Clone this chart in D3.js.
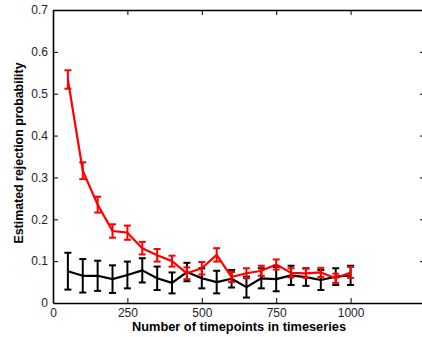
<!DOCTYPE html>
<meta charset="utf-8">
<title>Rejection probability</title>
<script src="https://d3js.org/d3.v7.min.js"></script>
<style>
    body { margin: 0; background: #fff; }
    text { font-family: "Liberation Sans", Arial, sans-serif; }
</style>
<body>
<div id="chart"></div>
<script>
    // data
    var timepoints = [50, 100, 150, 200, 250, 300, 350, 400, 450, 500,
                      550, 600, 650, 700, 750, 800, 850, 900, 950, 1000];
    var redMean = [0.534, 0.316, 0.235, 0.172, 0.168, 0.131, 0.114, 0.100, 0.071, 0.083,
                   0.115, 0.062, 0.071, 0.077, 0.092, 0.072, 0.071, 0.073, 0.059, 0.073];
    var redErr  = [0.022, 0.020, 0.019, 0.016, 0.017, 0.015, 0.015, 0.013, 0.014, 0.015,
                   0.016, 0.012, 0.012, 0.012, 0.012, 0.011, 0.011, 0.011, 0.011, 0.013];
    var blackMean = [0.076, 0.065, 0.065, 0.057, 0.067, 0.078, 0.059, 0.048, 0.074, 0.059,
                     0.050, 0.058, 0.038, 0.059, 0.057, 0.066, 0.062, 0.055, 0.063, 0.066];
    var blackErr  = [0.044, 0.040, 0.036, 0.033, 0.032, 0.029, 0.028, 0.025, 0.022, 0.024,
                     0.027, 0.021, 0.025, 0.024, 0.029, 0.023, 0.021, 0.024, 0.020, 0.023];
    var xTicks = [0, 250, 500, 750, 1000];
    var yTicks = [0, 0.1, 0.2, 0.3, 0.4, 0.5, 0.6, 0.7];

    var width = 422, height = 337;
    var svg = d3.select("#chart").append("svg")
        .attr("width", width)
        .attr("height", height);

    var x = d3.scaleLinear().domain([0, 1250]).range([53, 425]);
    var y = d3.scaleLinear().domain([0, 0.7]).range([303, 10]);

    // axes box, matlab style with inward ticks
    var axBottom = svg.append("g").attr("transform", "translate(0,303)")
        .call(d3.axisBottom(x).tickValues(xTicks).tickSizeInner(-5).tickSizeOuter(0).tickPadding(5)
            .tickFormat(d3.format("d")));
    var axTop = svg.append("g").attr("transform", "translate(0,10)")
        .call(d3.axisTop(x).tickValues(xTicks).tickSizeInner(-5).tickSizeOuter(0).tickFormat(""));
    var axLeft = svg.append("g").attr("transform", "translate(53,0)")
        .call(d3.axisLeft(y).tickValues(yTicks).tickSizeInner(-5).tickSizeOuter(0).tickPadding(5)
            .tickFormat(function(d) { return d === 0 ? "0" : d3.format(".1f")(d); }));
    var axRight = svg.append("g").attr("transform", "translate(425,0)")
        .call(d3.axisRight(y).tickValues(yTicks).tickSizeInner(-5).tickSizeOuter(0).tickFormat(""));

    [axBottom, axTop, axLeft, axRight].forEach(function(g) {
        g.select(".domain").attr("stroke", "#000").attr("stroke-width", 1.6);
        g.selectAll(".tick line").attr("stroke", "#000").attr("stroke-width", 1);
        g.selectAll(".tick text").attr("font-size", 12).attr("fill", "#222")
            .style("font-family", "Liberation Sans, Arial, sans-serif");
    });
    // hide the first ticks that sit on the corners
    axBottom.selectAll(".tick line").filter(function(d) { return d === 0; }).remove();
    axLeft.selectAll(".tick line").filter(function(d) { return d === 0; }).remove();

    function series(mean, err, color) {
        var rows = timepoints.map(function(t, i) { return {t: t, m: mean[i], e: err[i]}; });
        var g = svg.append("g");
        g.append("path")
            .datum(rows)
            .attr("fill", "none")
            .attr("stroke", color)
            .attr("stroke-width", 2.2)
            .attr("stroke-linejoin", "round")
            .attr("d", d3.line().x(function(d) { return x(d.t); }).y(function(d) { return y(d.m); }));
        var bars = g.selectAll(".eb").data(rows).enter().append("g")
            .attr("stroke", color).attr("stroke-width", 2);
        bars.append("line")
            .attr("x1", function(d) { return x(d.t); })
            .attr("x2", function(d) { return x(d.t); })
            .attr("y1", function(d) { return y(d.m - d.e); })
            .attr("y2", function(d) { return y(d.m + d.e); });
        [-1, 1].forEach(function(s) {
            bars.append("line")
                .attr("x1", function(d) { return x(d.t) - 3.5; })
                .attr("x2", function(d) { return x(d.t) + 3.5; })
                .attr("y1", function(d) { return y(d.m + s * d.e); })
                .attr("y2", function(d) { return y(d.m + s * d.e); });
        });
    }

    series(blackMean, blackErr, "#000");
    series(redMean, redErr, "#ff0000");

    // axis titles
    svg.append("text")
        .attr("x", 239)
        .attr("y", 331)
        .attr("text-anchor", "middle")
        .attr("font-size", 12.8)
        .attr("font-weight", "bold")
        .text("Number of timepoints in timeseries");

    svg.append("text")
        .attr("transform", "translate(23,153) rotate(-90)")
        .attr("text-anchor", "middle")
        .attr("font-size", 12.4)
        .attr("font-weight", "bold")
        .text("Estimated rejection probability");
</script>
</body>
